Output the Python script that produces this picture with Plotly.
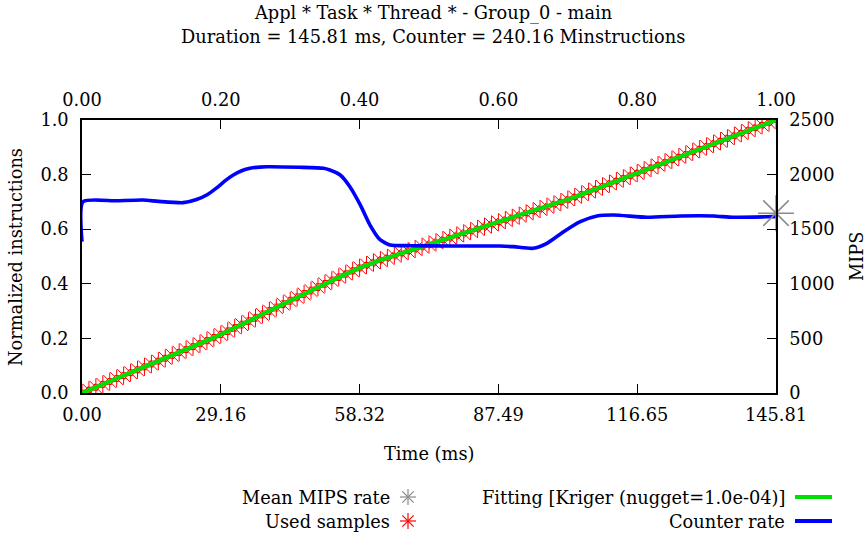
import numpy as np
import plotly.graph_objects as go

# ---------------- data ----------------
DURATION_MS = 145.81
COUNTER_MINSTR = 240.16
TITLE_1 = "Appl * Task * Thread * - Group_0 - main"
TITLE_2 = "Duration = 145.81 ms, Counter = 240.16 Minstructions"

# used samples: normalized time (fraction of duration) and normalized instructions
sample_frac = [
    0.00, 0.01, 0.02, 0.03, 0.04, 0.05, 0.06, 0.07, 0.08, 0.09,
    0.10, 0.11, 0.12, 0.13, 0.14, 0.15, 0.16, 0.17, 0.18, 0.19,
    0.20, 0.21, 0.22, 0.23, 0.24, 0.25, 0.26, 0.27, 0.28, 0.29,
    0.30, 0.31, 0.32, 0.33, 0.34, 0.35, 0.36, 0.37, 0.38, 0.39,
    0.40, 0.41, 0.42, 0.43, 0.44, 0.45, 0.46, 0.47, 0.48, 0.49,
    0.50, 0.51, 0.52, 0.53, 0.54, 0.55, 0.56, 0.57, 0.58, 0.59,
    0.60, 0.61, 0.62, 0.63, 0.64, 0.65, 0.66, 0.67, 0.68, 0.69,
    0.70, 0.71, 0.72, 0.73, 0.74, 0.75, 0.76, 0.77, 0.78, 0.79,
    0.80, 0.81, 0.82, 0.83, 0.84, 0.85, 0.86, 0.87, 0.88, 0.89,
    0.90, 0.91, 0.92, 0.93, 0.94, 0.95, 0.96, 0.97, 0.98, 0.99, 1.00,
]
sample_norm = [
    0.0000, 0.0105, 0.0211, 0.0317, 0.0423, 0.0529, 0.0636, 0.0742, 0.0849, 0.0956,
    0.1062, 0.1168, 0.1274, 0.1379, 0.1485, 0.1590, 0.1696, 0.1804, 0.1915, 0.2028,
    0.2143, 0.2262, 0.2383, 0.2505, 0.2629, 0.2753, 0.2879, 0.3004, 0.3129, 0.3254,
    0.3379, 0.3504, 0.3628, 0.3753, 0.3877, 0.4002, 0.4122, 0.4244, 0.4361, 0.4474,
    0.4586, 0.4688, 0.4780, 0.4867, 0.4950, 0.5032, 0.5114, 0.5195, 0.5275, 0.5358,
    0.5440, 0.5521, 0.5603, 0.5685, 0.5766, 0.5848, 0.5929, 0.6010, 0.6092, 0.6173,
    0.6254, 0.6335, 0.6416, 0.6497, 0.6578, 0.6658, 0.6739, 0.6821, 0.6905, 0.6993,
    0.7084, 0.7178, 0.7273, 0.7370, 0.7468, 0.7566, 0.7664, 0.7762, 0.7860, 0.7958,
    0.8055, 0.8153, 0.8250, 0.8347, 0.8445, 0.8543, 0.8640, 0.8738, 0.8836, 0.8934,
    0.9031, 0.9129, 0.9227, 0.9325, 0.9422, 0.9519, 0.9616, 0.9714, 0.9811, 0.9908, 1.0000,
]

# counter rate (MIPS) over normalized time
rate_frac = [0.000, 0.0015, 0.050, 0.088, 0.110, 0.146, 0.165, 0.181, 0.194, 0.206,
             0.218, 0.230, 0.242, 0.266, 0.314, 0.348, 0.357, 0.372, 0.386, 0.401,
             0.415, 0.429, 0.444, 0.473, 0.530, 0.602, 0.622, 0.650, 0.670, 0.694,
             0.718, 0.742, 0.766, 0.814, 0.862, 0.910, 0.938, 0.996, 1.000]
rate_mips = [1385, 1752, 1760, 1767, 1755, 1743, 1772, 1818, 1878, 1942,
             1996, 2035, 2058, 2072, 2067, 2058, 2042, 1996, 1889, 1722,
             1538, 1407, 1355, 1349, 1346, 1346, 1340, 1325, 1371, 1477,
             1569, 1621, 1630, 1609, 1621, 1621, 1609, 1615, 1615]

MEAN_MIPS = 1647.07

bottom_tick_labels = ["0.00", "29.16", "58.32", "87.49", "116.65", "145.81"]
top_tick_labels = ["0.00", "0.20", "0.40", "0.60", "0.80", "1.00"]
left_tick_labels = ["0.0", "0.2", "0.4", "0.6", "0.8", "1.0"]
right_tick_labels = ["0", "500", "1000", "1500", "2000", "2500"]

LEGEND_LEFT = ["Mean MIPS rate", "Used samples"]
LEGEND_RIGHT = ["Fitting [Kriger (nugget=1.0e-04)]", "Counter rate"]

# ---------------- style ----------------
FONT = "DejaVu Serif"
FS = 17.8
RED = "#ff0000"
GREEN = "#00e000"
BLUE = "#0000ff"
GRAY = "#8a8a8a"

W, H = 866, 536
L, R, T, B = 82, 90, 120, 143
PW, PH = W - L - R, H - T - B


def px(x):
    return (x - L) / PW


def py(y):
    return (H - B - y) / PH


sample_ms = np.array(sample_frac) * DURATION_MS
rate_ms = np.array(rate_frac) * DURATION_MS

fig = go.Figure()

fig.add_trace(go.Scatter(
    x=sample_ms, y=sample_norm, mode="markers", xaxis="x", yaxis="y",
    marker=dict(symbol="asterisk-open", size=15, color=RED,
                line=dict(color=RED, width=1)),
    showlegend=False, hoverinfo="skip"))

fig.add_trace(go.Scatter(
    x=sample_ms, y=sample_norm, mode="lines", xaxis="x", yaxis="y",
    line=dict(color=GREEN, width=4), showlegend=False, hoverinfo="skip"))

fig.add_trace(go.Scatter(
    x=rate_ms, y=rate_mips, mode="lines", xaxis="x", yaxis="y2",
    line=dict(color=BLUE, width=3.6, shape="spline", smoothing=0.6),
    showlegend=False, hoverinfo="skip"))

fig.add_trace(go.Scatter(
    x=[DURATION_MS], y=[MEAN_MIPS], mode="markers", xaxis="x", yaxis="y2",
    marker=dict(symbol="asterisk-open", size=30, color=GRAY,
                line=dict(color=GRAY, width=1.5)),
    cliponaxis=False, showlegend=False, hoverinfo="skip"))

# invisible trace for the top (normalized time) axis
fig.add_trace(go.Scatter(
    x=[0, 1], y=[0, 0], mode="markers", xaxis="x2", yaxis="y",
    marker=dict(opacity=0), showlegend=False, hoverinfo="skip"))

axis_common = dict(
    showline=True, linecolor="black", linewidth=1.5, mirror=False,
    ticks="inside", ticklen=9, tickwidth=1, tickcolor="black",
    showgrid=False, zeroline=False,
    tickfont=dict(family=FONT, size=FS, color="black"),
)

fig.update_layout(
    width=W, height=H,
    margin=dict(l=L, r=R, t=T, b=B, pad=0),
    paper_bgcolor="white", plot_bgcolor="white",
    font=dict(family=FONT, size=FS, color="black"),
    xaxis=dict(range=[0, DURATION_MS], tickmode="array",
               tickvals=[float(v) for v in bottom_tick_labels],
               ticktext=bottom_tick_labels, ticklabelstandoff=5,
               **axis_common),
    xaxis2=dict(range=[0, 1], overlaying="x", side="top", anchor="y",
                tickmode="array", tickvals=[float(v) for v in top_tick_labels],
                ticktext=top_tick_labels, ticklabelstandoff=5, **axis_common),
    yaxis=dict(range=[0, 1], tickmode="array",
               tickvals=[float(v) for v in left_tick_labels],
               ticktext=left_tick_labels, ticklabelstandoff=8, **axis_common),
    yaxis2=dict(range=[0, 2500], overlaying="y", side="right", anchor="x",
                tickmode="array", tickvals=[float(v) for v in right_tick_labels],
                ticktext=right_tick_labels, ticklabelstandoff=8, **axis_common),
)

ann = []
ann.append(dict(text=TITLE_1, x=px(433), y=py(13), xref="paper", yref="paper",
                showarrow=False, xanchor="center", yanchor="middle"))
ann.append(dict(text=TITLE_2, x=px(433), y=py(37), xref="paper", yref="paper",
                showarrow=False, xanchor="center", yanchor="middle"))
ann.append(dict(text="Time (ms)", x=px(429), y=py(453), xref="paper", yref="paper",
                showarrow=False, xanchor="center", yanchor="middle"))
ann.append(dict(text="Normalized instructions", x=px(15), y=py(257), xref="paper",
                yref="paper", showarrow=False, textangle=-90,
                xanchor="center", yanchor="middle"))
ann.append(dict(text="MIPS", x=px(856), y=py(257), xref="paper",
                yref="paper", showarrow=False, textangle=-90,
                xanchor="center", yanchor="middle"))

# legend (gnuplot-style: text right-aligned, sample to its right)
row_y = [497, 521]
for i, txt in enumerate(LEGEND_LEFT):
    ann.append(dict(text=txt, x=px(392), y=py(row_y[i]), xref="paper", yref="paper",
                    showarrow=False, xanchor="right", yanchor="middle"))
for i, txt in enumerate(LEGEND_RIGHT):
    ann.append(dict(text=txt, x=px(787), y=py(row_y[i]), xref="paper", yref="paper",
                    showarrow=False, xanchor="right", yanchor="middle"))

shapes = []


def star(cx, cy, r, color, width):
    out = []
    d = r * 0.7071
    for (dx, dy) in [(r, 0), (0, r), (d, d), (d, -d)]:
        out.append(dict(type="line", xref="paper", yref="paper",
                        xsizemode="pixel", ysizemode="pixel",
                        xanchor=px(cx), yanchor=py(cy),
                        x0=-dx, x1=dx, y0=-dy, y1=dy,
                        line=dict(color=color, width=width)))
    return out


shapes += star(408, row_y[0], 8, GRAY, 1.2)
shapes += star(408, row_y[1], 8, RED, 1.2)
shapes.append(dict(type="line", xref="paper", yref="paper",
                   x0=px(795), x1=px(832), y0=py(row_y[0]), y1=py(row_y[0]),
                   line=dict(color=GREEN, width=4)))
shapes.append(dict(type="line", xref="paper", yref="paper",
                   x0=px(795), x1=px(832), y0=py(row_y[1]), y1=py(row_y[1]),
                   line=dict(color=BLUE, width=4)))

fig.update_layout(annotations=ann, shapes=shapes)

fig.write_html("out.html")
